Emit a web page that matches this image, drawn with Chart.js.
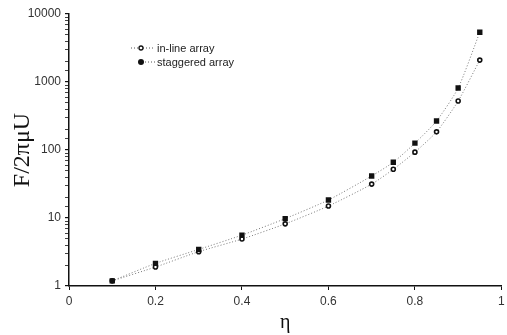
<!DOCTYPE html>
<html>
<head>
<meta charset="utf-8">
<script src="https://cdn.jsdelivr.net/npm/chart.js@4"></script>
<style>
  body { margin: 0; background: #fff; }
  #wrap { position: relative; width: 507px; height: 335px; }
  #legend { position: absolute; left: 131px; top: 41px; font: 11px "Liberation Sans", Arial, sans-serif; color: #222; line-height: 14px; }
  #legend .row { display: flex; align-items: center; }
  #legend .sample { width: 24px; height: 14px; margin-right: 2px; position: relative; }
</style>
</head>
<body>
<div id="wrap">
  <canvas id="myChart" width="507" height="335"></canvas>
  <div id="legend">
    <div class="row"><svg class="sample" viewBox="0 0 24 14"><line x1="0" y1="7" x2="24" y2="7" stroke="#555" stroke-width="1" stroke-dasharray="1,2"/><circle cx="10" cy="7" r="2" fill="#fff" stroke="#111" stroke-width="1.3"/></svg>in-line array</div>
    <div class="row"><svg class="sample" viewBox="0 0 24 14"><line x1="14" y1="7" x2="24" y2="7" stroke="#555" stroke-width="1" stroke-dasharray="1,2"/><circle cx="10" cy="7" r="3" fill="#111"/></svg>staggered array</div>
  </div>
</div>
<script>
// datos
const eta = [0.1, 0.2, 0.3, 0.4, 0.5, 0.6, 0.7, 0.75, 0.8, 0.85, 0.9, 0.95];
const inLine = [1.19, 1.9, 3.2, 4.9, 8.2, 15, 31.5, 52, 93, 185, 525, 2100];
const staggered = [1.19, 2.15, 3.45, 5.6, 9.8, 18.4, 41.5, 66, 126, 267, 815, 5400];
const xTicks = [0, 0.2, 0.4, 0.6, 0.8, 1];
const yTicks = [1, 10, 100, 1000, 10000];

const toPoints = (ys) => eta.map((x, i) => ({ x: x, y: ys[i] }));

const ctx = document.querySelector('#myChart');

new Chart(ctx, {
  type: 'scatter',
  data: {
    datasets: [{
      label: 'staggered array',
      data: toPoints(staggered),
      showLine: true,
      borderColor: '#777',
      borderWidth: 1,
      borderDash: [1, 2],
      tension: 0.2,
      pointStyle: 'rect',
      pointRadius: 3.8,
      pointBackgroundColor: '#111',
      pointBorderColor: '#111',
      pointBorderWidth: 0
    }, {
      label: 'in-line array',
      data: toPoints(inLine),
      showLine: true,
      borderColor: '#777',
      borderWidth: 1,
      borderDash: [1, 2],
      tension: 0.2,
      pointStyle: 'circle',
      pointRadius: 2,
      pointBackgroundColor: '#fff',
      pointBorderColor: '#111',
      pointBorderWidth: 1.6
    }]
  },
  options: {
    responsive: false,
    animation: false,
    layout: { padding: { top: 14, right: 1, left: 0, bottom: 0 } },
    plugins: { legend: { display: false }, tooltip: { enabled: false } },
    scales: {
      x: {
        type: 'linear',
        min: 0,
        max: 1,
        afterBuildTicks: (axis) => { axis.ticks = xTicks.map(v => ({ value: v })); },
        ticks: {
          color: '#333',
          font: { family: 'Liberation Sans', size: 12 },
          padding: 4,
          maxRotation: 0,
          callback: (v) => String(v)
        },
        grid: { drawOnChartArea: false, color: '#111', tickLength: 4, lineWidth: 1 },
        border: { color: '#111', width: 1.5 },
        title: { display: true, text: 'η', font: { family: 'Liberation Serif', size: 20 }, color: '#111', padding: { top: 0, bottom: 0 } },
        afterFit: (axis) => { axis.height = 49; axis.paddingRight = 0; axis.paddingLeft = 0; }
      },
      y: {
        type: 'logarithmic',
        min: 1,
        max: 10000,
        ticks: {
          color: '#333',
          font: { family: 'Liberation Sans', size: 12 },
          padding: 4,
          autoSkip: false,
          callback: (v) => yTicks.includes(v) ? String(v) : ''
        },
        grid: {
          drawOnChartArea: false,
          color: '#111',
          tickLength: 4,
          lineWidth: (c) => c.tick && yTicks.includes(c.tick.value) ? 1.2 : 0.8
        },
        border: { color: '#111', width: 1.5 },
        title: { display: true, text: 'F/2πμU', font: { family: 'Liberation Serif', size: 24 }, color: '#111', padding: { top: 8, bottom: 0 } },
        afterFit: (axis) => { axis.width = 69; axis.paddingTop = 0; axis.paddingBottom = 0; }
      }
    }
  }
});
</script>
</body>
</html>
